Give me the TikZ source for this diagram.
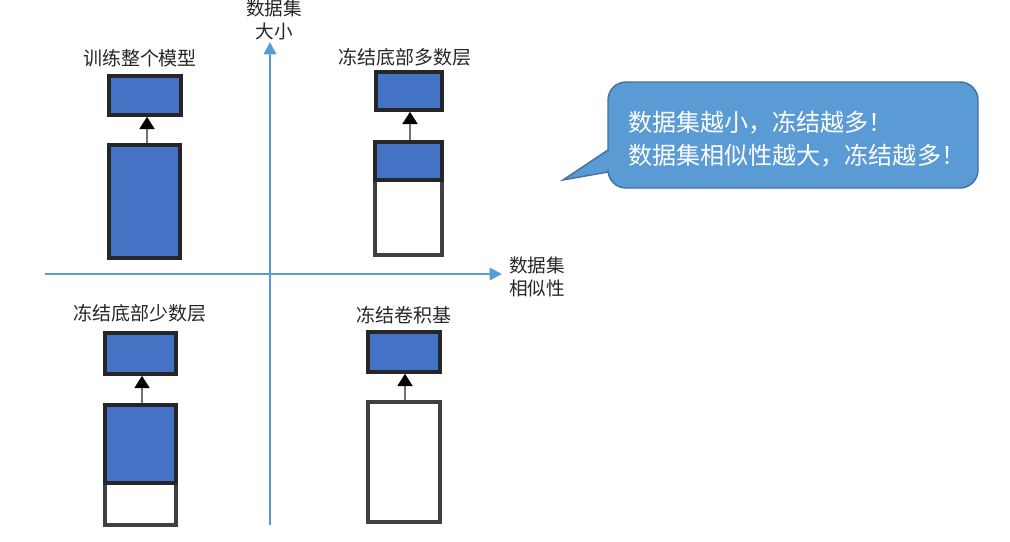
\documentclass[tikz,border=0pt]{standalone}
\usepackage{fontspec}
\setmainfont{Noto Sans CJK SC}
\usepackage{xcolor}
\usetikzlibrary{arrows.meta, positioning}

\definecolor{layerblue}{HTML}{4472C4}
\definecolor{axisblue}{HTML}{5B9BD5}
\definecolor{noteblue}{HTML}{5B9BD5}
\definecolor{noteline}{HTML}{41719C}

\begin{document}
\begin{tikzpicture}[
    x=0.02cm, y=-0.02cm,
    layer/.style={rectangle, draw=black!85, line width=2pt, fill=layerblue, inner sep=0pt},
    frozen/.style={rectangle, draw=black!75, line width=2pt, fill=white, inner sep=0pt},
    title/.style={font=\fontsize{10.8}{12}\selectfont, text=black!85},
    axislabel/.style={font=\fontsize{10.6}{13}\selectfont, align=center, text=black!85},
    axis/.style={draw=axisblue, line width=1.4pt, -{Triangle[length=7pt, width=7pt]}},
    up/.style={draw=black!55, line width=1.2pt, -{Triangle[length=7pt, width=8.5pt, color=black]}}
]
\useasboundingbox (0,0) rectangle (1010,541);

% Axes
\coordinate (yfoot) at (270,525);
\coordinate (ytip) at (270,42);
\coordinate (xfoot) at (45,274);
\coordinate (xtip) at (502,274);
\draw[axis] (yfoot) -- (ytip);
\draw[axis] (xfoot) -- (xtip);
\node[axislabel] (ylab) at (274,20) {数据集\\大小};
\node[axislabel, anchor=west] (xlab) at (503,277) {数据集\\相似性};

% Top-left: train everything
\node[title] (tl_title) at (140,58) {训练整个模型};
\node[layer, minimum width=1.44cm, minimum height=0.78cm] (tl_top) at (145,95.5) {};
\node[layer, minimum width=1.42cm, minimum height=2.26cm] (tl_base) at (144.5,201.5) {};
\draw[up] (tl_base.north -| 147,0) -- (tl_top.south -| 147,0);

% Top-right: freeze many bottom layers
\node[title] (tr_title) at (405,57) {冻结底部多数层};
\node[layer, minimum width=1.32cm, minimum height=0.76cm] (tr_top) at (409,91) {};
\node[frozen, minimum width=1.34cm, minimum height=2.26cm] (tr_base) at (408.5,198.5) {};
\node[layer, minimum width=1.34cm, minimum height=0.76cm] (tr_part) at (408.5,161) {};
\draw[up] (tr_part.north -| 410,0) -- (tr_top.south -| 410,0);

% Bottom-left: freeze few bottom layers
\node[title] (bl_title) at (140,313) {冻结底部少数层};
\node[layer, minimum width=1.42cm, minimum height=0.82cm] (bl_top) at (140.5,353.5) {};
\node[frozen, minimum width=1.42cm, minimum height=2.4cm] (bl_base) at (140.5,465) {};
\node[layer, minimum width=1.42cm, minimum height=1.56cm] (bl_part) at (140.5,444) {};
\draw[up] (bl_part.north -| 142,0) -- (bl_top.south -| 142,0);

% Bottom-right: freeze the conv base
\node[title] (br_title) at (404,315) {冻结卷积基};
\node[layer, minimum width=1.44cm, minimum height=0.8cm] (br_top) at (404,352) {};
\node[frozen, minimum width=1.44cm, minimum height=2.4cm] (br_base) at (404,462) {};
\draw[up] (br_base.north -| 405,0) -- (br_top.south -| 405,0);

% Callout
\fill[noteblue, draw=noteline, line width=0.8pt]
    (608,150) [rounded corners=0.36cm] -- (608,82) -- (978,82) -- (978,188) -- (608,188)
    [sharp corners] -- (608,172) -- (563,180) -- cycle;
\node[anchor=west, align=left, text=white, font=\fontsize{13.7}{18.8}\selectfont] (note) at (622,139)
    {数据集越小，冻结越多！\\数据集相似性越大，冻结越多！};
\end{tikzpicture}
\end{document}
